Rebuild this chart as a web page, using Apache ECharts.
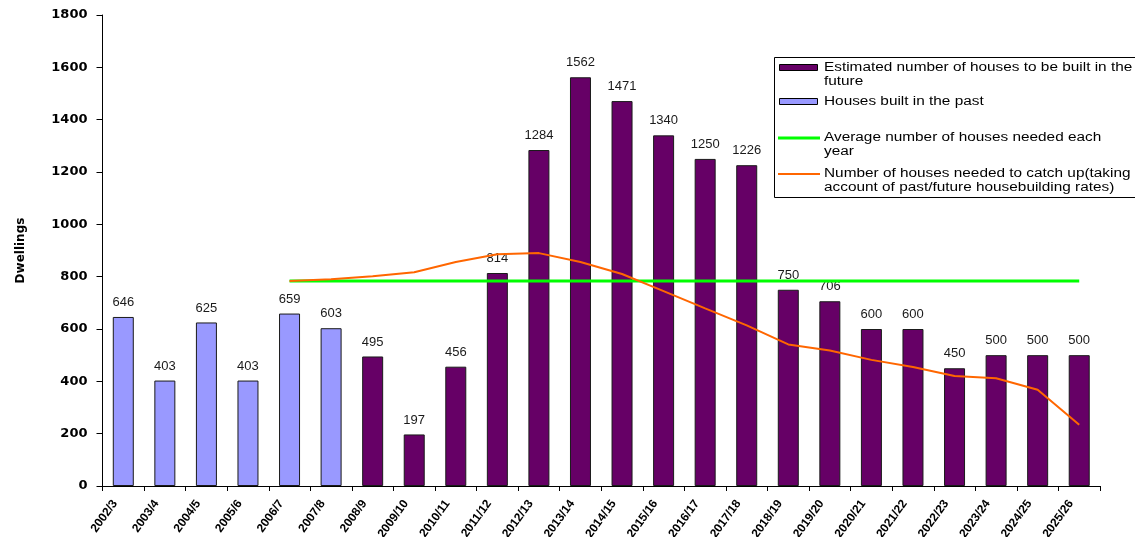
<!DOCTYPE html>
<html>
<head>
<meta charset="utf-8">
<title>Dwellings</title>
<script src="https://cdn.jsdelivr.net/npm/echarts@6/dist/echarts.min.js"></script>
<style>
  html, body { margin: 0; padding: 0; background: #fff; }
  #chart { width: 1135px; height: 537px; }
</style>
</head>
<body>
<div id="chart"></div>
<script>
// Financial years on the category axis
const categories = [
  '2002/3', '2003/4', '2004/5', '2005/6', '2006/7', '2007/8', '2008/9', '2009/10',
  '2010/11', '2011/12', '2012/13', '2013/14', '2014/15', '2015/16', '2016/17', '2017/18',
  '2018/19', '2019/20', '2020/21', '2021/22', '2022/23', '2023/24', '2024/25', '2025/26'
];

// Completions, 2002/3 to 2007/8
const pastBuilt = [646, 403, 625, 403, 659, 603];

// Estimated completions, 2008/9 to 2025/26
const futureEstimate = [495, 197, 456, 814, 1284, 1562, 1471, 1340, 1250, 1226, 750, 706, 600, 600, 450, 500, 500, 500];

// Need lines run from 2006/7 onwards
const needStart = '2006/7';
const averageNeeded = 783;
const catchUpNeeded = [783, 790, 802, 817, 856, 886, 890, 856, 810, 745, 679, 614, 541, 518, 482, 455, 420, 412, 368, 234];

// Y axis ticks
const yTicks = [0, 200, 400, 600, 800, 1000, 1200, 1400, 1600, 1800];

const seriesNames = [
  'Estimated number of houses to be built in the future',
  'Houses built in the past',
  'Average number of houses needed each year',
  'Number of houses needed to catch up(taking account of past/future housebuilding rates)'
];

const startIdx = categories.indexOf(needStart);

const pastData = categories.map((c, i) => i < pastBuilt.length ? pastBuilt[i] : null);
const futureData = categories.map((c, i) => i >= pastBuilt.length ? futureEstimate[i - pastBuilt.length] : null);
const avgData = categories.map((c, i) => i >= startIdx ? averageNeeded : null);
const catchData = categories.map((c, i) => i >= startIdx ? catchUpNeeded[i - startIdx] : null);

const FONT = 'Arial, "Liberation Sans", sans-serif';
const WIDE_FONT = '"DejaVu Sans", Arial, sans-serif';

const barLabel = {
  show: true,
  position: 'top',
  distance: 8,
  color: '#1a1a1a',
  fontFamily: FONT,
  fontSize: 13
};

// Legend: boxed list, each entry wrapped onto up to two lines
const legendX = 774, legendY = 57;
const textX = 824;
const legendLines = [
  ['Estimated number of houses to be built in the', 'future'],
  ['Houses built in the past'],
  ['Average number of houses needed each', 'year'],
  ['Number of houses needed to catch up(taking', 'account of past/future housebuilding rates)']
];
const legendRowY = [68, 102, 138, 174];
const legendGraphics = [{
  type: 'rect',
  shape: { x: legendX + 0.5, y: legendY + 0.5, width: 380, height: 140 },
  style: { fill: '#fff', stroke: '#000', lineWidth: 1 },
  z: 10
}];
const swatchStyle = [
  { kind: 'bar', fill: '#660066' },
  { kind: 'bar', fill: '#9999ff' },
  { kind: 'line', stroke: '#00ff00', width: 3 },
  { kind: 'line', stroke: '#ff6600', width: 2 }
];
legendLines.forEach((lines, k) => {
  const y = legendRowY[k];
  const s = swatchStyle[k];
  if (s.kind === 'bar') {
    legendGraphics.push({
      type: 'rect',
      shape: { x: 779.5, y: y - 3.5, width: 38, height: 6 },
      style: { fill: s.fill, stroke: '#000', lineWidth: 1 },
      z: 11
    });
  } else {
    legendGraphics.push({
      type: 'line',
      shape: { x1: 778, y1: y, x2: 820, y2: y },
      style: { stroke: s.stroke, lineWidth: s.width },
      z: 11
    });
  }
  lines.forEach((t, j) => {
    legendGraphics.push({
      type: 'text',
      x: textX,
      y: y + j * 14,
      scaleX: 1.28,
      style: {
        text: t,
        fill: '#000',
        font: '12px ' + FONT,
        textVerticalAlign: 'middle',
        textAlign: 'left'
      },
      z: 11
    });
  });
});

const chart = echarts.init(document.getElementById('chart'), null, { renderer: 'canvas' });

chart.setOption({
  animation: false,
  backgroundColor: '#ffffff',
  grid: {
    left: 102.5, right: 35, top: 15, bottom: 51,
    containLabel: false,
    outerBoundsMode: 'none'
  },
  xAxis: {
    type: 'category',
    data: categories,
    boundaryGap: true,
    axisLine: { lineStyle: { color: '#000', width: 1 } },
    axisTick: { show: true, length: 5, lineStyle: { color: '#000' } },
    axisLabel: {
      interval: 0,
      rotate: 54,
      margin: 4,
      padding: [0, 14, 0, 0],
      color: '#000',
      fontFamily: FONT,
      fontWeight: 'bold',
      fontSize: 12
    }
  },
  yAxis: {
    type: 'value',
    min: yTicks[0],
    max: yTicks[yTicks.length - 1],
    interval: yTicks[1] - yTicks[0],
    name: 'Dwellings',
    nameLocation: 'middle',
    nameGap: 76,
    nameRotate: 90,
    nameTextStyle: { color: '#000', fontFamily: WIDE_FONT, fontWeight: 'bold', fontSize: 12 },
    axisLine: { show: true, lineStyle: { color: '#000', width: 1 } },
    axisTick: { show: true, length: 6, lineStyle: { color: '#000' } },
    splitLine: { show: false },
    axisLabel: {
      margin: 15,
      color: '#000',
      fontFamily: WIDE_FONT,
      fontWeight: 'bold',
      fontSize: 13,
      formatter: v => String(v)
    }
  },
  series: [
    {
      name: seriesNames[0],
      type: 'bar',
      stack: 'dwellings',
      barWidth: 21,
      data: futureData,
      itemStyle: { color: '#660066', borderColor: '#1a1a1a', borderWidth: 1 },
      label: barLabel
    },
    {
      name: seriesNames[1],
      type: 'bar',
      stack: 'dwellings',
      barWidth: 21,
      data: pastData,
      itemStyle: { color: '#9999ff', borderColor: '#1a1a1a', borderWidth: 1 },
      label: barLabel
    },
    {
      name: seriesNames[2],
      type: 'line',
      data: avgData,
      symbol: 'none',
      lineStyle: { color: '#00ff00', width: 3 },
      z: 5
    },
    {
      name: seriesNames[3],
      type: 'line',
      data: catchData,
      symbol: 'none',
      lineStyle: { color: '#ff6600', width: 2 },
      z: 6
    }
  ],
  graphic: legendGraphics
});
</script>
</body>
</html>
